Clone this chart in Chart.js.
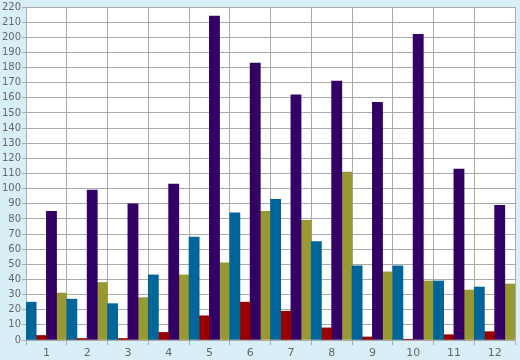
<!DOCTYPE html>
<html><head><meta charset="utf-8">
<script src="https://cdn.jsdelivr.net/npm/chart.js@4/dist/chart.umd.min.js"></script>
<style>html,body{margin:0;padding:0;background:#d9eff7;}#wrap{width:520px;height:360px;}</style>
</head><body><div id="wrap"><canvas id="c" width="520" height="360"></canvas></div>
<script>
const categories = ['1','2','3','4','5','6','7','8','9','10','11','12'];
const seriesBlue   = [25, 27, 24, 43, 68, 84, 93, 65, 49, 49, 39, 35];
const seriesRed    = [3, 1, 1, 5, 16, 25, 19, 8, 2, 0.5, 3.5, 5.5];
const seriesPurple = [85, 99, 90, 103, 214, 183, 162, 171, 157, 202, 113, 89];
const seriesOlive  = [31, 38, 28, 43, 51, 85, 79, 111, 45, 39, 33, 37];

const bgPlugin = {
  id: 'bg',
  beforeDraw(chart) {
    const {ctx, chartArea: a} = chart;
    ctx.save();
    ctx.fillStyle = '#d9eff7';
    ctx.fillRect(0, 0, chart.width, chart.height);
    ctx.fillStyle = '#ffffff';
    ctx.fillRect(a.left, a.top, a.right - a.left, a.bottom - a.top);
    ctx.restore();
  }
};

const mk = (data, color) => ({data, backgroundColor: color, borderWidth: 0, barPercentage: 1, categoryPercentage: 1});

new Chart(document.getElementById('c'), {
  type: 'bar',
  data: {
    labels: categories,
    datasets: [
      mk(seriesBlue, '#006699'),
      mk(seriesRed, '#990000'),
      mk(seriesPurple, '#330066'),
      mk(seriesOlive, '#999933')
    ]
  },
  options: {
    responsive: false,
    animation: false,
    devicePixelRatio: 1,
    layout: {padding: {top: 0, right: 5, left: 0, bottom: 0}},
    plugins: {legend: {display: false}, tooltip: {enabled: false}},
    scales: {
      x: {
        grid: {color: '#aaaaaa', lineWidth: 1, offset: true, tickLength: 5, tickColor: '#aaaaaa'},
        border: {color: '#aaaaaa'},
        ticks: {color: '#666666', font: {family: 'DejaVu Sans', size: 11}, padding: 2, maxRotation: 0},
        afterFit(s) { s.height = 20; }
      },
      y: {
        min: 0, max: 220,
        grid: {color: '#aaaaaa', lineWidth: 1, tickLength: 4, tickColor: '#aaaaaa'},
        border: {color: '#aaaaaa'},
        ticks: {stepSize: 10, color: '#666666', font: {family: 'DejaVu Sans', size: 10}, padding: 1},
        afterFit(s) { s.width = 26; }
      }
    }
  },
  plugins: [bgPlugin]
});
</script></body></html>
